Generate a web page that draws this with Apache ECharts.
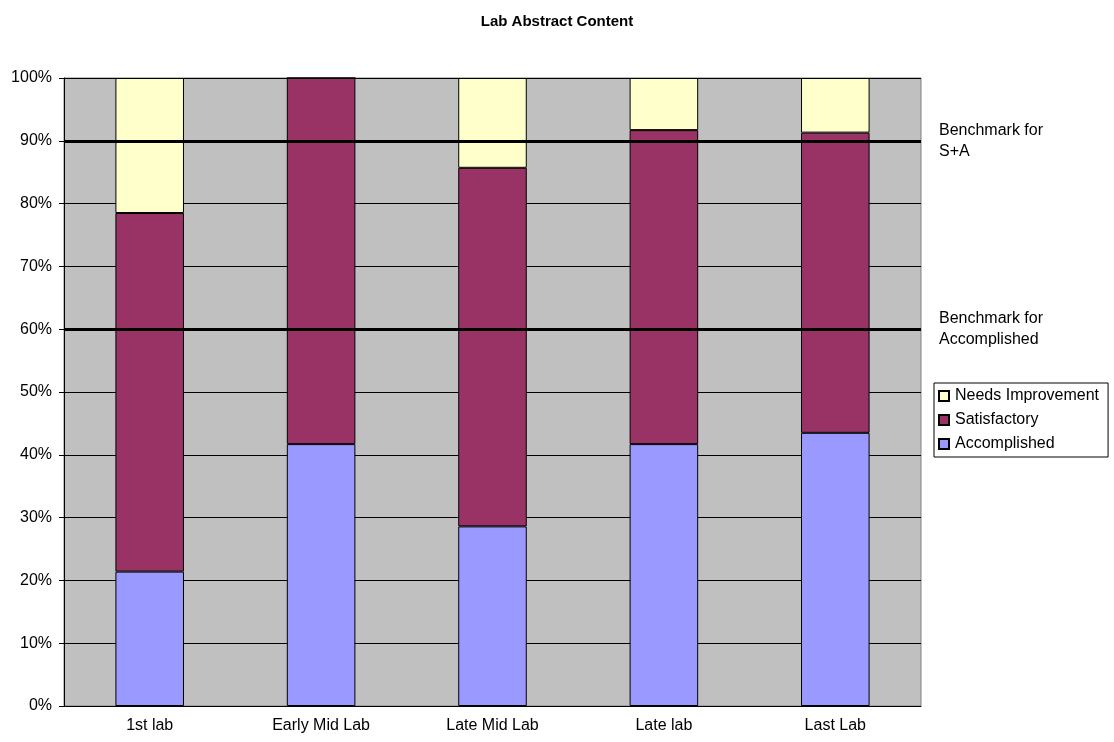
<!DOCTYPE html>
<html>
<head>
<meta charset="utf-8">
<script src="https://cdn.jsdelivr.net/npm/echarts@6/dist/echarts.min.js"></script>
<style>
  html, body { margin: 0; padding: 0; background: #fff; }
  #main { width: 1114px; height: 742px; }
</style>
</head>
<body>
<div id="main"></div>
<script>
// categories and stacked shares (percent)
var labs = ['1st lab', 'Early Mid Lab', 'Late Mid Lab', 'Late lab', 'Last Lab'];
var accomplished = [21.4, 41.7, 28.6, 41.7, 43.5];
var satisfactory = [57.1, 58.3, 57.1, 50.0, 47.8];
var needsImprovement = [21.5, 0, 14.3, 8.3, 8.7];
// benchmark lines
var benchmarks = [90, 60];
var benchmarkLabels = ['Benchmark for\nS+A', 'Benchmark for\nAccomplished'];

var font = 'Liberation Sans, Arial, sans-serif';
var chart = echarts.init(document.getElementById('main'));

var barBorder = { borderColor: '#000', borderWidth: 1 };

var option = {
  animation: false,
  backgroundColor: '#fff',
  textStyle: { fontFamily: font, color: '#000' },
  title: {
    text: 'Lab Abstract Content',
    left: 'center',
    top: 9,
    textStyle: { fontSize: 15, fontWeight: 'bold', color: '#000', fontFamily: font }
  },
  grid: {
    left: 64, right: 193, top: 78, bottom: 36,
    show: true,
    backgroundColor: '#C0C0C0',
    borderColor: '#808080',
    borderWidth: 1
  },
  legend: {
    orient: 'vertical',
    left: 934,
    top: 383,
    data: ['Needs Improvement', 'Satisfactory', 'Accomplished'],
    icon: 'rect',
    itemWidth: 10,
    itemHeight: 10,
    itemGap: 8,
    padding: [5, 9, 5, 4],
    borderColor: '#000',
    borderWidth: 1,
    textStyle: { fontSize: 16, color: '#000', fontFamily: font, padding: [0, 0, 0, 1] }
  },
  xAxis: {
    type: 'category',
    data: labs,
    axisLine: { lineStyle: { color: '#000', width: 1 } },
    axisTick: { length: 5, lineStyle: { color: '#000' } },
    axisLabel: { fontSize: 16, color: '#000', margin: 12 },
    splitLine: { show: false }
  },
  yAxis: {
    type: 'value',
    min: 0,
    max: 100,
    interval: 10,
    axisLine: { show: true, lineStyle: { color: '#000', width: 1 } },
    axisTick: { show: true, length: 5, lineStyle: { color: '#000' } },
    axisLabel: { fontSize: 16, color: '#000', margin: 12, formatter: '{value}%' },
    splitLine: { show: true, lineStyle: { color: '#000', width: 1 } }
  },
  series: [
    {
      name: 'Accomplished',
      type: 'bar',
      stack: 'all',
      barWidth: '40%',
      data: accomplished,
      itemStyle: Object.assign({ color: '#9999FF' }, barBorder)
    },
    {
      name: 'Satisfactory',
      type: 'bar',
      stack: 'all',
      data: satisfactory,
      itemStyle: Object.assign({ color: '#993366' }, barBorder)
    },
    {
      name: 'Needs Improvement',
      type: 'bar',
      stack: 'all',
      data: needsImprovement,
      itemStyle: Object.assign({ color: '#FFFFCC' }, barBorder),
      markLine: {
        silent: true,
        symbol: 'none',
        z: 10,
        lineStyle: { color: '#000', width: 3, type: 'solid' },
        label: {
          position: 'end',
          distance: 18,
          fontSize: 16,
          lineHeight: 21,
          color: '#000',
          fontFamily: font,
          align: 'left'
        },
        data: benchmarks.map(function (v, i) {
          return { yAxis: v, label: { formatter: benchmarkLabels[i] } };
        })
      }
    }
  ]
};

chart.setOption(option);
</script>
</body>
</html>
